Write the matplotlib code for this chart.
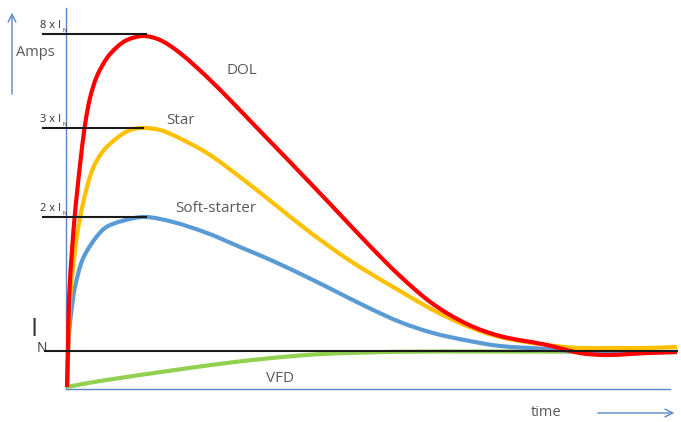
import matplotlib
matplotlib.use("Agg")
from matplotlib import pyplot as plt
from matplotlib.path import Path
from matplotlib.patches import PathPatch
import numpy as np

# time axis (arbitrary units) and current (arbitrary units, 0 = time axis)
dol_t = [0, 0.1, 0.2, 0.5, 0.8, 1.0, 1.3, 1.8, 2.3, 3.0, 4.0, 5.0, 6.0, 7.6, 9.3, 11.3, 14.0,
         16.6, 19.3, 22.3, 26.6, 30.0, 33.3, 36.6, 40.0, 43.3, 48.0, 51.3, 54.0, 58.0, 61.0]
dol_i = [0.2, 3.9, 8.9, 13.9, 17.6, 19.6, 22.4, 26.4, 29.1, 31.3, 33.1, 34.2, 34.9, 35.3, 34.9, 33.6, 31.2,
         28.6, 25.8, 22.7, 18.2, 14.6, 11.3, 8.5, 6.5, 5.3, 4.4, 3.6, 3.4, 3.6, 3.7]

star_t = [0, 0.3, 0.8, 1.3, 2.0, 2.7, 3.7, 5.0, 6.3, 7.6, 9.3, 11.0, 14.0, 17.3, 20.6, 24.0,
          27.3, 29.6, 33.3, 36.6, 40.0, 43.3, 48.0, 51.3, 54.6, 58.0, 61.0]
star_i = [0.2, 8.9, 13.9, 17.1, 20.2, 22.3, 23.9, 25.1, 25.9, 26.1, 25.9, 25.2, 23.6, 21.2, 18.6, 15.9,
          13.5, 12.0, 9.8, 7.9, 6.3, 5.2, 4.4, 4.1, 4.1, 4.1, 4.2]

soft_t = [0, 0.1, 0.25, 0.5, 0.8, 1.5, 2.5, 3.8, 5.5, 7.8, 10.6, 14.0, 17.3, 20.6, 24.6, 26.6,
          30.0, 33.3, 36.6, 40.0, 43.3, 48.0, 51.3, 54.6, 61.0]
soft_i = [0.2, 3.5, 6.0, 8.3, 10.2, 12.8, 14.6, 16.1, 16.8, 17.2, 16.7, 15.6, 14.2, 12.8, 10.9, 9.9,
          8.2, 6.7, 5.6, 4.85, 4.3, 4.0, 3.7, 3.6, 3.7]

vfd_t = [0, 3.3, 10.8, 13.3, 16.6, 20.0, 23.3, 26.6, 33.3, 41.3, 61.0]
vfd_i = [0.2, 0.8, 1.9, 2.25, 2.68, 3.05, 3.35, 3.55, 3.72, 3.75, 3.7]

# reference current levels
level_in = 3.8
levels = [35.5, 26.1, 17.2]
level_labels = ["8 x I", "3 x I", "2 x I"]
level_ends = [7.9, 7.6, 7.9]

txt = "#595959"
axis_col = "#5B87C8"
plt.rcParams['font.family'] = ['Open Sans', 'DejaVu Sans']


def smooth_path(xs, ys):
    # chordal catmull-rom through the points, as cubic bezier segments
    p = np.column_stack([xs, ys]).astype(float)
    d = np.hypot(*np.diff(p, axis=0).T)
    n = len(p)
    m = np.zeros_like(p)
    for k in range(n):
        if k == 0:
            m[k] = (p[1] - p[0]) / d[0]
        elif k == n - 1:
            m[k] = (p[-1] - p[-2]) / d[-1]
        else:
            m[k] = (p[k + 1] - p[k - 1]) / (d[k - 1] + d[k])
    verts = [p[0]]
    codes = [Path.MOVETO]
    for k in range(n - 1):
        verts += [p[k] + m[k] * d[k] / 3, p[k + 1] - m[k + 1] * d[k] / 3, p[k + 1]]
        codes += [Path.CURVE4] * 3
    return Path(verts, codes)


fig = plt.figure(figsize=(6.81, 4.22), dpi=100)
ax = fig.add_axes([0, 0, 1, 1])
ax.set_xlim(-6.7, 61.4)
ax.set_ylim(-3.3, 38.9)
ax.axis('off')

# axes lines
ax.plot([-0.1, -0.1], [0, 38.1], color=axis_col, lw=1.0, zorder=1)
ax.plot([-0.1, 60.3], [0, 0], color=axis_col, lw=1.0, zorder=1)

# curves
curves = [(vfd_t, vfd_i, "#92D050"), (soft_t, soft_i, "#5B9BD5"),
          (star_t, star_i, "#FFC000"), (dol_t, dol_i, "#FF0000")]
for z, (xs, ys, col) in enumerate(curves):
    ax.add_patch(PathPatch(smooth_path(xs, ys), fill=False, ec=col, lw=3,
                           capstyle='butt', zorder=2 + z))

# level lines
ax.plot([-2.2, 61.0], [level_in, level_in], color="#1a1a1a", lw=1.5, zorder=6)
for lv, lab, end in zip(levels, level_labels, level_ends):
    ax.plot([-2.4, end], [lv, lv], color="#1a1a1a", lw=1.5, zorder=6)
    ax.text(-0.6, lv + 0.9, lab, ha='right', va='center', fontsize=8, color="#333333")
    ax.text(-0.5, lv + 0.35, "N", ha='left', va='center', fontsize=4, color="#333333")

ax.text(-3.3, level_in + 2.1, "I", ha='center', va='center', fontsize=18, color="#333333")
ax.text(-2.5, level_in + 0.3, "N", ha='center', va='center', fontsize=10, color="#333333")

# labels
ax.text(17.5, 31.9, "DOL", ha='center', va='center', fontsize=11, color=txt)
ax.text(11.4, 26.9, "Star", ha='center', va='center', fontsize=11, color=txt)
ax.text(14.9, 18.1, "Soft-starter", ha='center', va='center', fontsize=11, color=txt)
ax.text(21.3, 1.1, "VFD", ha='center', va='center', fontsize=11, color=txt)
ax.text(47.9, -2.3, "time", ha='center', va='center', fontsize=10.5, color=txt)
ax.text(-3.2, 33.6, "Amps", ha='center', va='center', fontsize=10.5, color=txt)

# arrows
ax.annotate("", xy=(-5.5, 37.9), xytext=(-5.5, 29.2),
            arrowprops=dict(arrowstyle='->', color=axis_col, lw=1.0, mutation_scale=14))
ax.annotate("", xy=(61.0, -2.4), xytext=(52.8, -2.4),
            arrowprops=dict(arrowstyle='->', color=axis_col, lw=1.0, mutation_scale=14))

fig.savefig("out.png", dpi=100)
